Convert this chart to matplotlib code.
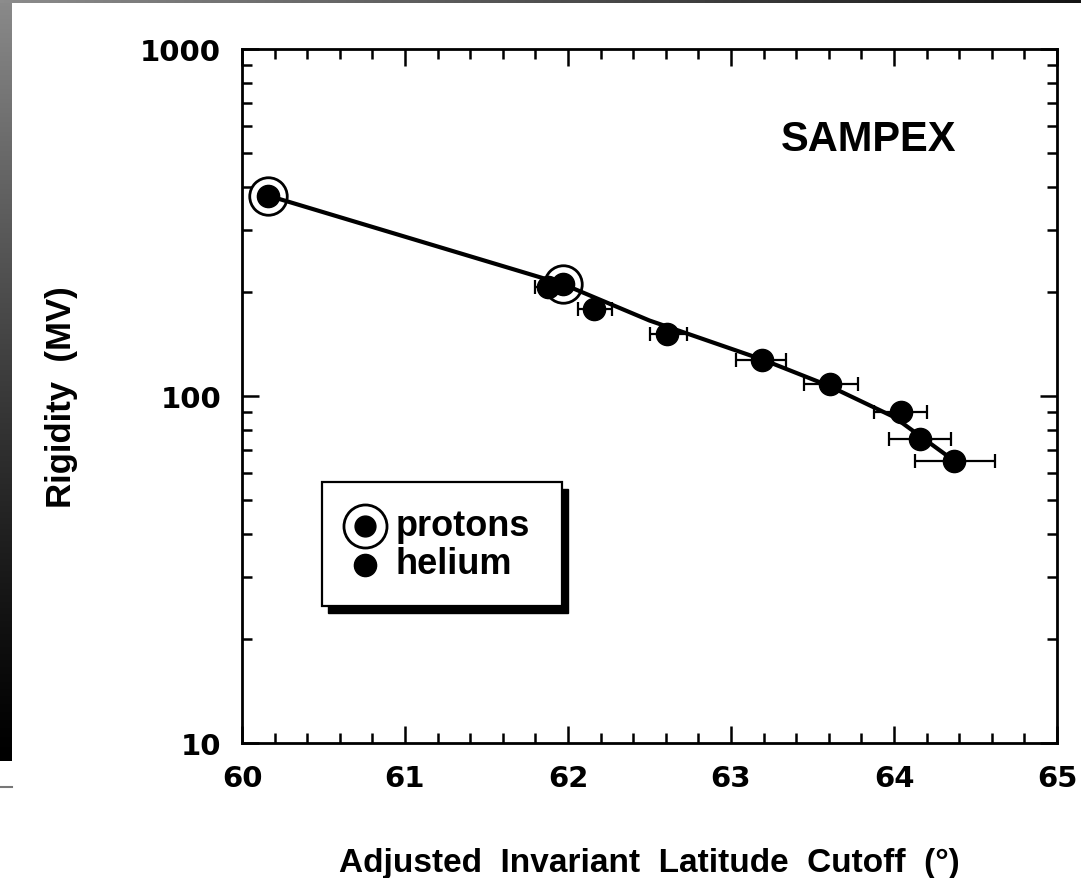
import numpy as np
import matplotlib
matplotlib.use("Agg")
import matplotlib.pyplot as plt
from matplotlib.patches import Rectangle
from matplotlib.lines import Line2D
from matplotlib.ticker import FixedLocator, LogLocator, NullFormatter

# cutoff data: adjusted invariant latitude (deg) vs rigidity (MV)
proton_lat = [60.16, 61.97]
proton_rig = [378, 210]

helium_lat = [61.88, 62.16, 62.61, 63.19, 63.61, 64.04, 64.16, 64.37]
helium_rig = [206, 178, 151, 127, 108, 90, 75, 65]
helium_err_lo = [0.08, 0.10, 0.11, 0.16, 0.16, 0.16, 0.19, 0.24]
helium_err_hi = [0.08, 0.11, 0.12, 0.15, 0.17, 0.16, 0.19, 0.25]

# fitted cutoff curve
fit_lat = [60.16, 61.97, 62.50, 63.20, 63.60, 64.00, 64.37]
fit_rig = [378, 210, 165, 127, 107, 87, 65]

x_ticks = [60, 61, 62, 63, 64, 65]
y_ticks = [10, 100, 1000]

fig = plt.figure(figsize=(10.81, 8.79), dpi=100)
fig.patch.set_facecolor("white")

# dark scanner edges of the slide
grad = np.clip(np.linspace(0.6, 0.0, 256), 0, 1) ** 1.2
grad = grad[:, None] * np.ones((1, 4))
ax_edge = fig.add_axes([0, (879 - 762) / 879, 12 / 1081, 762 / 879])
ax_edge.imshow(np.dstack([grad] * 3), aspect="auto", interpolation="bilinear",
               vmin=0, vmax=1)
ax_edge.axis("off")

top = np.linspace(0.55, 0.08, 256)[None, :] * np.ones((4, 1))
ax_top = fig.add_axes([0, 1 - 4 / 879, 1, 4 / 879])
ax_top.imshow(np.dstack([top] * 3), aspect="auto", interpolation="bilinear")
ax_top.axis("off")

fig.add_artist(Line2D([0, 12 / 1081], [1 - 788 / 879] * 2, color="#777777", lw=1.5))

ax = fig.add_axes([242 / 1081, 1 - 744 / 879, 815 / 1081, 694 / 879])
ax.set_yscale("log")
ax.set_xlim(60, 65)
ax.set_ylim(10, 1000)

ax.plot(fit_lat, fit_rig, color="black", lw=3, zorder=2)

ax.errorbar(helium_lat, helium_rig, xerr=[helium_err_lo, helium_err_hi],
            fmt="o", color="black", ms=16, elinewidth=1.6, capsize=5,
            capthick=1.6, zorder=3)
ax.plot(proton_lat, proton_rig, "o", color="black", ms=16, zorder=4)
ax.plot(proton_lat, proton_rig, "o", mfc="none", mec="black", ms=27, mew=2,
        zorder=4)

for s in ax.spines.values():
    s.set_linewidth(2)

ax.xaxis.set_major_locator(FixedLocator(x_ticks))
ax.xaxis.set_minor_locator(FixedLocator(np.arange(60, 65.01, 0.2)))
ax.yaxis.set_major_locator(FixedLocator(y_ticks))
ax.yaxis.set_minor_locator(LogLocator(base=10, subs=np.arange(2, 10)))
ax.yaxis.set_minor_formatter(NullFormatter())
ax.set_xticklabels([str(v) for v in x_ticks])
ax.set_yticklabels([str(v) for v in y_ticks])

ax.tick_params(which="both", direction="in", top=True, right=True, width=1.8)
ax.tick_params(which="major", length=12, pad=15)
ax.tick_params(which="minor", length=7)
for lab in ax.get_xticklabels() + ax.get_yticklabels():
    lab.set_fontfamily("DejaVu Sans")
    lab.set_fontweight("bold")
    lab.set_fontsize(21)

ax.set_xlabel("Adjusted  Invariant  Latitude  Cutoff  (°)", fontsize=24,
              fontweight="bold", family="Liberation Sans")
ax.xaxis.set_label_coords(0.5, -0.15)
ax.set_ylabel("Rigidity  (MV)", fontsize=25, fontweight="bold",
              family="Liberation Sans")
ax.yaxis.set_label_coords(-0.201, 0.5)

ax.text(0.769, 0.87, "SAMPEX", transform=ax.transAxes, ha="center",
        va="center", fontsize=30, fontweight="bold", family="Liberation Sans")

# legend box with a solid drop shadow
bx0, bx1 = (322 - 242) / 815, (562 - 242) / 815
by0, by1 = (744 - 607) / 694, (744 - 483) / 694
dx, dy = 6 / 815, 7 / 694
ax.add_patch(Rectangle((bx0 + dx, by0 - dy), bx1 - bx0, by1 - by0,
                       transform=ax.transAxes, facecolor="black",
                       edgecolor="black", zorder=5, clip_on=False))
ax.add_patch(Rectangle((bx0, by0), bx1 - bx0, by1 - by0,
                       transform=ax.transAxes, facecolor="white",
                       edgecolor="black", lw=1.6, zorder=6, clip_on=False))
lx = (365 - 242) / 815
ly_p = (744 - 527) / 694
ly_h = (744 - 566) / 694
ax.plot([lx], [ly_p], "o", color="black", ms=15, transform=ax.transAxes,
        zorder=7, clip_on=False)
ax.plot([lx], [ly_p], "o", mfc="none", mec="black", ms=31, mew=2,
        transform=ax.transAxes, zorder=7, clip_on=False)
ax.plot([lx], [ly_h], "o", color="black", ms=16, transform=ax.transAxes,
        zorder=7, clip_on=False)
tx = (396 - 242) / 815
ax.text(tx, ly_p, "protons", transform=ax.transAxes, va="center",
        fontsize=26, fontweight="bold", family="Liberation Sans", zorder=8)
ax.text(tx, (744 - 564) / 694, "helium", transform=ax.transAxes,
        va="center", fontsize=26, fontweight="bold",
        family="Liberation Sans", zorder=8)

fig.savefig("out.png", dpi=100)
